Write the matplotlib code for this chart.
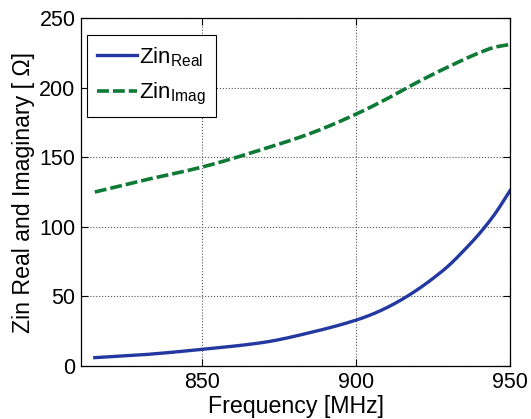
import matplotlib
matplotlib.use("Agg")
import matplotlib.pyplot as plt
import numpy as np

plt.rcParams['font.family'] = ['Liberation Sans', 'DejaVu Sans']
plt.rcParams['mathtext.fontset'] = 'custom'
plt.rcParams['mathtext.rm'] = 'Liberation Sans'

freq_real = [815, 830, 850, 870, 885, 900, 905, 910, 915, 920, 925, 930, 935, 940, 945, 950]
zin_real = [6, 8, 12, 17, 24, 33, 37, 42, 48, 55, 63, 72, 83, 95, 109, 126]
freq_imag = [815, 830, 850, 870, 885, 900, 910, 920, 930, 940, 945, 950]
zin_imag = [125, 133, 143, 156, 167, 181, 192, 204, 215, 225, 229, 231]

xticks = [850, 900, 950]
yticks = [0, 50, 100, 150, 200, 250]

def smooth(x, y, n=400):
    x = np.asarray(x, float); y = np.asarray(y, float)
    xs = np.linspace(x[0], x[-1], n)
    h = np.diff(x); d = np.diff(y) / h
    m = np.zeros_like(y)
    m[0] = d[0]; m[-1] = d[-1]
    for i in range(1, len(x) - 1):
        if d[i-1] * d[i] > 0:
            w1 = 2*h[i] + h[i-1]; w2 = h[i] + 2*h[i-1]
            m[i] = (w1 + w2) / (w1/d[i-1] + w2/d[i])
    idx = np.clip(np.searchsorted(x, xs) - 1, 0, len(x) - 2)
    t = (xs - x[idx]) / h[idx]
    h00 = 2*t**3 - 3*t**2 + 1; h10 = t**3 - 2*t**2 + t
    h01 = -2*t**3 + 3*t**2; h11 = t**3 - t**2
    ys = h00*y[idx] + h10*h[idx]*m[idx] + h01*y[idx+1] + h11*h[idx]*m[idx+1]
    return xs, ys

fig = plt.figure(figsize=(5.31, 4.19), dpi=100)
ax = fig.add_axes([0.1525, 0.1265, 0.808, 0.8305])

xr, yr = smooth(freq_real, zin_real)
xi, yi = smooth(freq_imag, zin_imag)
ax.plot(xr, yr, color='#2338a0', lw=2.4, label=r'Zin$_{\mathrm{Real}}$')
ax.plot(xi, yi, color='#0e7a35', lw=2.6, ls=(0, (3.3, 1.1)), label=r'Zin$_{\mathrm{Imag}}$')

ax.set_xlim(810.5, 950)
ax.set_ylim(0, 250)
ax.set_xticks(xticks)
ax.set_yticks(yticks)
ax.tick_params(direction='in', top=True, right=True, labelsize=15.5, length=5, width=0.8, pad=4)
ax.grid(True, ls=':', color='#555555', lw=0.8)
for s in ax.spines.values():
    s.set_linewidth(0.9)
ax.set_xlabel('Frequency [MHz]', fontsize=16.7, labelpad=2)
ax.set_ylabel('Zin Real and Imaginary [ Ω]', fontsize=16.7, labelpad=3)

leg = ax.legend(loc='upper left', bbox_to_anchor=(0.014, 0.951), fontsize=16,
                fancybox=False, edgecolor='black', framealpha=1, handlelength=1.8,
                handletextpad=0.1, borderpad=0.45, labelspacing=0.55, borderaxespad=0)
leg.get_frame().set_linewidth(0.8)

fig.savefig('out.png', dpi=100)
